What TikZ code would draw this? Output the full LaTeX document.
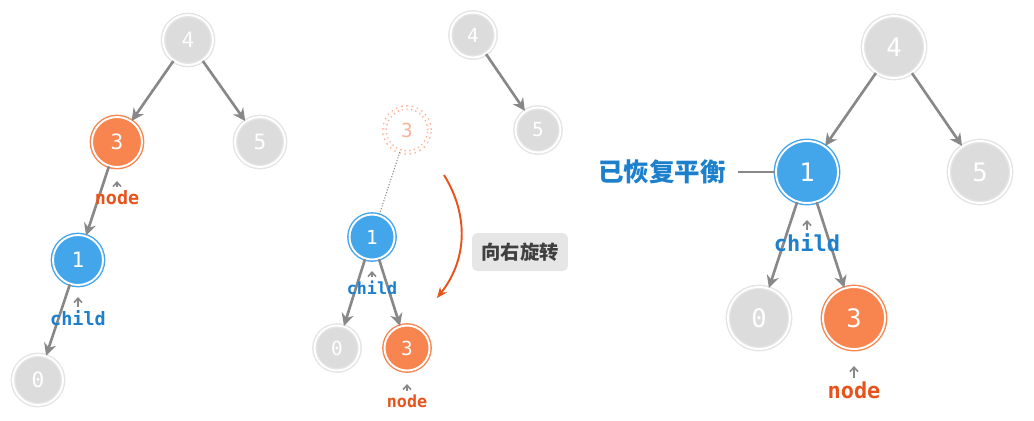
\documentclass[tikz,border=0pt]{standalone}
\usepackage{fontspec}
\setmonofont{DejaVu Sans Mono}
\newfontfamily\cjk{Noto Sans CJK SC}
\usepackage{tikz}
\usetikzlibrary{arrows.meta}

\definecolor{nodegray}{HTML}{DCDCDC}
\definecolor{ringgray}{HTML}{E4E4E4}
\definecolor{nodeorange}{HTML}{F8844F}
\definecolor{nodeblue}{HTML}{44A6EA}
\definecolor{txtorange}{HTML}{E8531C}
\definecolor{txtblue}{HTML}{1C80CC}
\definecolor{ghostorange}{HTML}{F9B39A}
\definecolor{edgegray}{HTML}{888888}
\definecolor{boxgray}{HTML}{E6E6E6}

\tikzset{
	tnode/.style={circle,inner sep=0pt,line width=0.8pt,double=white,double distance=1.1pt,text=white,font=\ttfamily},
	greynode/.style={tnode,fill=nodegray,draw=ringgray},
	orangenode/.style={tnode,fill=nodeorange,draw=nodeorange},
	bluenode/.style={tnode,fill=nodeblue,draw=nodeblue},
	ghostnode/.style={circle,inner sep=0pt,draw=ghostorange,dotted,line width=0.8pt,double=white,double distance=1.2pt,text=ghostorange,font=\ttfamily},
	edge/.style={-{Stealth[length=7pt,width=7pt]},draw=edgegray,line width=1.5pt},
	ptr/.style={-{Straight Barb[length=2.5pt,width=4.5pt]},draw=edgegray,line width=0.9pt,shorten <=2pt},
	lbl/.style={inner sep=0pt,font=\ttfamily\bfseries\fontsize{#1}{#1}\selectfont},
}

\begin{document}
\begin{tikzpicture}[x=0.02cm,y=-0.02cm]
	\useasboundingbox (0,0) rectangle (1034,420);

	% 失衡的树
	\begin{scope}[every node/.append style={minimum size=1.0cm}]
		\node[greynode,font=\ttfamily\fontsize{12}{12}\selectfont] (a4) at (188,40) {4};
		\node[orangenode,font=\ttfamily\fontsize{12}{12}\selectfont] (a3) at (117,142) {3};
		\node[greynode,font=\ttfamily\fontsize{12}{12}\selectfont] (a5) at (260,142) {5};
		\node[bluenode,font=\ttfamily\fontsize{12}{12}\selectfont] (a1) at (78,260) {1};
		\node[greynode,font=\ttfamily\fontsize{12}{12}\selectfont] (a0) at (38,380) {0};
	\end{scope}
	\draw[edge] (a4) -- (a3);
	\draw[edge] (a4) -- (a5);
	\draw[edge] (a3) -- (a1);
	\draw[edge] (a1) -- (a0);
	\node[lbl=10.5,text=txtorange] (anode) at (117,198) {node};
	\node[lbl=10.5,text=txtblue] (achild) at (78,318) {child};
	\coordinate (atip3) at (117,181);
	\coordinate (atip1) at (78,297);
	\draw[ptr] (anode.north) -- (atip3);
	\draw[ptr] (achild.north) -- (atip1);

	% 右旋过程
	\begin{scope}[every node/.append style={minimum size=0.9cm}]
		\node[greynode,font=\ttfamily\fontsize{11}{11}\selectfont] (b4) at (473,35) {4};
		\node[greynode,font=\ttfamily\fontsize{11}{11}\selectfont] (b5) at (538,130) {5};
		\node[ghostnode,font=\ttfamily\fontsize{11}{11}\selectfont] (bg) at (407,130) {3};
		\node[bluenode,font=\ttfamily\fontsize{11}{11}\selectfont] (b1) at (372,237) {1};
		\node[greynode,font=\ttfamily\fontsize{11}{11}\selectfont] (b0) at (337,348) {0};
		\node[orangenode,font=\ttfamily\fontsize{11}{11}\selectfont] (b3) at (407,348) {3};
	\end{scope}
	\draw[edge] (b4) -- (b5);
	\draw[edge] (b1) -- (b0);
	\draw[edge] (b1) -- (b3);
	\draw[edgegray,densely dotted,line width=0.6pt] (bg) -- (b1);
	\node[lbl=9.5,text=txtblue] (bchild) at (372,288) {child};
	\node[lbl=9.5,text=txtorange] (bnode) at (407,401) {node};
	\coordinate (btip1) at (372,271);
	\coordinate (btip3) at (407,384);
	\draw[ptr] (bchild.north) -- (btip1);
	\draw[ptr] (bnode.north) -- (btip3);
	\coordinate (rotS) at (444,175);
	\coordinate (rotE) at (437,298);
	\draw[-{Stealth[length=6pt,width=5pt]},draw=txtorange,line width=1.1pt] (rotS) to[bend left=35] (rotE);
	\node[fill=boxgray,rounded corners=3pt,minimum width=1.92cm,minimum height=0.76cm,text=black!75,font=\cjk\bfseries\fontsize{11}{11}\selectfont] (rot) at (520,252) {向右旋转};

	% 恢复平衡
	\begin{scope}[every node/.append style={minimum size=1.24cm}]
		\node[greynode,font=\ttfamily\fontsize{14.5}{14.5}\selectfont] (c4) at (894,47) {4};
		\node[bluenode,font=\ttfamily\fontsize{14.5}{14.5}\selectfont] (c1) at (807,172) {1};
		\node[greynode,font=\ttfamily\fontsize{14.5}{14.5}\selectfont] (c5) at (980,172) {5};
		\node[greynode,font=\ttfamily\fontsize{14.5}{14.5}\selectfont] (c0) at (759,318) {0};
		\node[orangenode,font=\ttfamily\fontsize{14.5}{14.5}\selectfont] (c3) at (854,318) {3};
	\end{scope}
	\draw[edge] (c4) -- (c1);
	\draw[edge] (c4) -- (c5);
	\draw[edge] (c1) -- (c0);
	\draw[edge] (c1) -- (c3);
	\node[lbl=12.5,text=txtblue] (cchild) at (807,243) {child};
	\node[lbl=12.5,text=txtorange] (cnode) at (854,390) {node};
	\coordinate (ctip1) at (807,220);
	\coordinate (ctip3) at (854,366);
	\draw[ptr] (cchild.north) -- (ctip1);
	\draw[ptr] (cnode.north) -- (ctip3);
	\node[inner sep=0pt,text=txtblue,font=\cjk\bfseries\fontsize{14.5}{14.5}\selectfont] (bal) at (662,172) {已恢复平衡};
	\draw[edgegray,line width=0.6pt,shorten <=7pt] (bal.east) -- (c1.west);
\end{tikzpicture}
\end{document}
